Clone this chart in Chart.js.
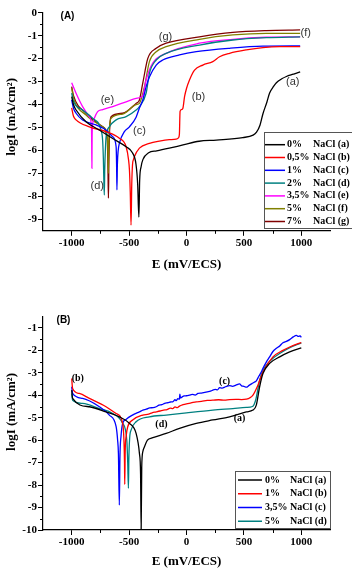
<!DOCTYPE html>
<html><head><meta charset="utf-8">
<script src="https://cdn.jsdelivr.net/npm/chart.js@4/dist/chart.umd.min.js"></script>
<style>
html,body{margin:0;padding:0;background:#fff;width:352px;height:574px;overflow:hidden}
#ca{position:absolute;left:0;top:0}
#cb{position:absolute;left:0;top:287px}
</style></head><body>
<canvas id="ca" width="352" height="280"></canvas>
<canvas id="cb" width="352" height="287"></canvas>
<script>
// ---------- Chart (A) data : E (mV/ECS) and logI (mA/cm2) ----------
const aE0 = [-1000,-985,-960,-875,-760,-646,-526,-471,-440,-425,-415,-408,-395,-380,-330,-260,-150,-30,110,260,490,580,610,640,666,700,724,760,783,830,870,930,990];
const aI0 = [-3.66,-4.0,-4.25,-4.75,-5.11,-5.47,-5.84,-6.1,-6.6,-7.5,-8.9,-7.3,-6.7,-6.4,-6.1,-6.02,-5.9,-5.76,-5.6,-5.55,-5.44,-5.33,-5.2,-4.9,-4.4,-3.9,-3.5,-3.2,-3.05,-2.88,-2.78,-2.68,-2.58];
const aE1 = [-1000,-985,-962,-846,-701,-585,-526,-505,-497,-490,-483,-477,-470,-462,-454,-410,-323,-236,-150,-90,-70,-62,-56,-45,-32,-17,0,26,70,142,229,288,375,521,666,811,990];
const aI1 = [-4.15,-4.5,-4.67,-4.97,-5.18,-5.47,-5.84,-6.4,-6.85,-7.8,-9.25,-7.5,-6.6,-6.4,-6.27,-5.9,-5.69,-5.59,-5.53,-5.51,-5.45,-5.3,-4.3,-4.22,-4.17,-3.66,-3.3,-2.93,-2.5,-2.28,-2.13,-1.92,-1.77,-1.62,-1.52,-1.48,-1.48];
const aE2 = [-1000,-985,-962,-905,-788,-701,-643,-613,-609,-606,-602,-595,-585,-541,-497,-439,-410,-381,-350,-323,-264,-207,-61,85,375,666,990];
const aI2 = [-3.8,-4.15,-4.38,-4.67,-4.89,-5.11,-5.4,-5.84,-6.6,-7.72,-6.6,-6.0,-5.69,-5.18,-4.97,-4.55,-4.15,-3.8,-3.2,-2.8,-2.28,-2.06,-1.84,-1.7,-1.55,-1.46,-1.45];
const aE3 = [-1000,-985,-905,-818,-745,-730,-724,-720,-716,-712,-706,-700,-672,-613,-526,-439,-410,-352,-323,-264,-177,113,404,695,990];
const aI3 = [-3.5,-3.85,-4.24,-4.6,-5.11,-5.6,-6.4,-7.3,-7.94,-6.8,-5.9,-5.4,-4.97,-4.67,-4.53,-4.24,-4.09,-3.51,-2.64,-2.06,-1.77,-1.41,-1.19,-1.09,-1.05];
const aE4 = [-1000,-962,-905,-846,-828,-826,-824,-822,-818,-803,-774,-730,-643,-526,-439,-381,-352,-294,-177,113,404,695,990];
const aI4 = [-3.05,-3.51,-4.09,-4.53,-4.97,-5.6,-6.78,-5.4,-4.9,-4.6,-4.31,-4.22,-4.09,-3.88,-3.73,-3.62,-2.93,-2.2,-1.77,-1.33,-1.16,-1.07,-1.05];
const aE5 = [-1000,-985,-875,-730,-690,-684,-681,-678,-672,-657,-556,-439,-410,-366,-323,-264,-177,113,404,695,990];
const aI5 = [-3.29,-3.7,-4.46,-4.97,-5.4,-6.2,-7.0,-6.0,-5.1,-4.6,-4.42,-4.0,-3.95,-3.22,-2.13,-1.7,-1.48,-1.16,-0.97,-0.9,-0.9];
const aE6 = [-1000,-985,-875,-730,-690,-684,-680,-676,-672,-666,-657,-556,-439,-410,-381,-337,-264,-177,113,404,695,990];
const aI6 = [-3.22,-3.6,-4.38,-4.97,-5.55,-6.8,-8.08,-6.5,-5.4,-4.8,-4.53,-4.38,-3.95,-3.8,-3.07,-1.99,-1.55,-1.33,-1.05,-0.86,-0.78,-0.75];
const aPct = ['0%','0,5%','1%','2%','3,5%','5%','7%'];
const aTag = ['NaCl (a)','NaCl (b)','NaCl (c)','NaCl (d)','NaCl (e)','NaCl (f)','NaCl (g)'];

// ---------- Chart (B) data ----------
const bE0 = [-1000,-992,-846,-701,-585,-497,-439,-410,-400,-395,-390,-380,-366,-340,-300,-177,-61,85,229,375,521,579,608,637,666,724,812,899,1000];
const bI0 = [-3.77,-4.14,-4.51,-4.74,-4.96,-5.25,-5.7,-6.59,-7.5,-10,-7.2,-6.5,-6.29,-6.0,-5.9,-5.7,-5.47,-5.25,-5.1,-4.96,-4.74,-4.66,-4.44,-3.62,-3.03,-2.58,-2.29,-2.07,-1.89];
const bE1 = [-1000,-992,-934,-846,-701,-613,-556,-545,-540,-538,-534,-525,-512,-469,-381,-330,-300,-264,-230,-200,-170,-140,-120,-100,-80,-61,-30,0,40,85,130,180,229,280,330,375,430,480,521,550,579,622,666,753,840,899,1000];
const bI1 = [-3.25,-3.7,-3.92,-4.14,-4.51,-4.81,-5.25,-6.0,-7.0,-7.97,-6.5,-5.8,-5.4,-5.1,-4.88,-4.84,-4.78,-4.74,-4.70,-4.66,-4.64,-4.57,-4.59,-4.52,-4.55,-4.48,-4.42,-4.38,-4.34,-4.29,-4.27,-4.23,-4.22,-4.20,-4.22,-4.19,-4.18,-4.19,-4.17,-4.12,-3.99,-3.55,-2.96,-2.29,-2.0,-1.85,-1.65];
const bE2 = [-1000,-992,-905,-759,-672,-613,-600,-593,-585,-580,-570,-556,-527,-497,-455,-410,-380,-350,-320,-290,-264,-240,-215,-190,-160,-140,-120,-100,-90,-75,-62,-58,-52,-40,-20,0,26,50,75,100,130,160,190,215,229,250,270,288,310,340,375,400,430,462,480,500,521,545,570,590,608,630,650,666,695,724,753,780,812,840,870,899,930,957,975,990,1000];
const bI2 = [-3.62,-3.92,-4.14,-4.51,-4.88,-5.4,-6.0,-6.6,-8.89,-6.8,-5.8,-5.25,-5.08,-4.96,-4.84,-4.74,-4.66,-4.62,-4.56,-4.55,-4.51,-4.44,-4.42,-4.36,-4.33,-4.30,-4.29,-4.20,-4.24,-4.15,-4.18,-3.95,-4.12,-4.08,-4.03,-4.02,-3.99,-3.96,-3.99,-3.92,-3.90,-3.87,-3.84,-3.80,-3.77,-3.74,-3.76,-3.66,-3.68,-3.62,-3.57,-3.60,-3.55,-3.49,-3.58,-3.60,-3.64,-3.56,-3.48,-3.42,-3.36,-3.15,-2.98,-2.80,-2.52,-2.29,-2.05,-1.92,-1.80,-1.66,-1.60,-1.52,-1.40,-1.33,-1.38,-1.35,-1.42];
const bE3 = [-1000,-992,-905,-759,-643,-556,-520,-512,-506,-502,-495,-483,-439,-323,-177,0,229,404,521,575,602,637,666,695,753,812,900,1000];
const bI3 = [-3.92,-4.22,-4.36,-4.59,-4.81,-5.25,-6.0,-7.0,-8.14,-6.8,-5.9,-5.55,-5.18,-4.96,-4.88,-4.78,-4.66,-4.59,-4.54,-4.5,-4.22,-3.33,-2.9,-2.66,-2.35,-2.14,-1.88,-1.67];
const bPct = ['0%','1%','3,5%','5%'];
const bTag = ['NaCl (a)','NaCl (b)','NaCl (c)','NaCl (d)'];

// ---------- tick labels ----------
const xTickLabels = [-1000,-500,0,500,1000];
const yTickLabelsA = [0,-1,-2,-3,-4,-5,-6,-7,-8,-9];
const yTickLabelsB = [-1,-2,-3,-4,-5,-6,-7,-8,-9,-10];

const colA = ['#000000','#ff0000','#0000ff','#008080','#ff00ff','#808000','#800000'];
const colB = ['#000000','#ff0000','#0000ff','#008080'];

const SERIF = '"Liberation Serif","Times New Roman",serif';
const SANS = '"Liberation Sans",Arial,sans-serif';

function pts(E, I){ return E.map((e,k)=>({x:e,y:I[k]})); }
function near(v, arr){ return arr.some(a=>Math.abs(a-v)<1e-6); }

const overlay = {
  id:'overlay',
  afterDraw(chart, args, o){
    const ctx = chart.ctx, xs = chart.scales.x, ys = chart.scales.y;
    ctx.save();
    // minor ticks
    ctx.strokeStyle = '#000'; ctx.lineWidth = 1;
    ctx.beginPath();
    xs.ticks.forEach(t=>{
      if (t.value <= xs.min+1e-6 || t.value >= xs.max-1e-6) return;
      if (!near(t.value, o.xMajor)) {
        const px = Math.round(xs.getPixelForValue(t.value))+0.5;
        ctx.moveTo(px, ys.bottom); ctx.lineTo(px, ys.bottom+3);
      }
    });
    ys.ticks.forEach(t=>{
      if (t.value <= ys.min+1e-6 || t.value >= ys.max-1e-6) return;
      if (!near(t.value, o.yMajor)) {
        const py = Math.round(ys.getPixelForValue(t.value))+0.5;
        ctx.moveTo(xs.left-3, py); ctx.lineTo(xs.left, py);
      }
    });
    ctx.stroke();
    // curve labels
    ctx.textAlign = 'center'; ctx.textBaseline = 'middle';
    ctx.font = o.labelFont; ctx.fillStyle = o.labelColor;
    o.labels.forEach(l=>{
      ctx.fillText(l.t, xs.getPixelForValue(l.e), ys.getPixelForValue(l.v));
    });
    // panel letter
    ctx.font = 'bold 10px '+SANS; ctx.fillStyle = '#000';
    ctx.fillText(o.panel.t, o.panel.x, o.panel.y);
    // legend
    const L = o.legend;
    ctx.fillStyle = '#fff';
    ctx.fillRect(L.x, L.y, L.w, L.h);
    ctx.strokeStyle = '#555'; ctx.lineWidth = 1;
    ctx.strokeRect(L.x+0.5, L.y+0.5, L.w, L.h);
    ctx.textAlign = 'left'; ctx.font = 'bold 10px '+SERIF;
    chart.data.datasets.forEach((ds,i)=>{
      const y = L.row0 + i*L.step;
      ctx.strokeStyle = ds.borderColor; ctx.lineWidth = 1.5;
      ctx.beginPath(); ctx.moveTo(L.l0, y); ctx.lineTo(L.l1, y); ctx.stroke();
      ctx.fillStyle = '#000';
      ctx.fillText(L.pct[i], L.t1, y);
      ctx.fillText(L.tag[i], L.t2, y);
    });
    ctx.restore();
  }
};

function makeChart(id, sets, cols, yMin, yMax, yLabels, padTop, xH, xTitlePadB, yTitle, ov){
  return new Chart(document.getElementById(id), {
    type:'line',
    data:{ datasets: sets.map((s,i)=>({ data: pts(s[0], s[1]), borderColor: cols[i], borderWidth:1.3, pointRadius:0, fill:false, cubicInterpolationMode:'monotone' })) },
    options:{
      responsive:false, animation:false, events:[],
      layout:{ padding:{ top:padTop, right:22, left:0, bottom:0 } },
      plugins:{ legend:{display:false}, tooltip:{enabled:false}, overlay: ov },
      scales:{
        x:{
          type:'linear', min:-1250, max:1250,
          border:{display:true, color:'#000', width:1.2},
          grid:{ drawOnChartArea:false, drawTicks:true, tickLength:5, tickWidth:1,
                 tickColor: c => (c.tick && near(c.tick.value, xTickLabels)) ? '#000' : 'rgba(0,0,0,0)' },
          ticks:{ stepSize:250, autoSkip:false, maxRotation:0, padding:1, color:'#000',
                  font:{family:SERIF, weight:'bold', size:11},
                  callback: v => near(v, xTickLabels) ? String(Math.round(v)) : '' },
          title:{ display:true, text:'E (mV/ECS)', color:'#000', font:{family:SERIF, weight:'bold', size:13}, padding:{top:2, bottom:xTitlePadB} },
          afterFit: s => { s.height = xH; }
        },
        y:{
          type:'linear', min:yMin, max:yMax,
          border:{display:true, color:'#000', width:1.2},
          grid:{ drawOnChartArea:false, drawTicks:true, tickLength:5, tickWidth:1,
                 tickColor: c => (c.tick && near(c.tick.value, yLabels)) ? '#000' : 'rgba(0,0,0,0)' },
          ticks:{ stepSize:0.5, autoSkip:false, padding:1, color:'#000',
                  font:{family:SERIF, weight:'bold', size:11},
                  callback: v => near(v, yLabels) ? String(Math.round(v)) : '' },
          title:{ display:true, text:yTitle, color:'#000', font:{family:SERIF, weight:'bold', size:13}, padding:{top:3.5, bottom:0} },
          afterFit: s => { s.width = 43; }
        }
      }
    },
    plugins:[overlay]
  });
}

makeChart('ca',
  [[aE0,aI0],[aE1,aI1],[aE2,aI2],[aE3,aI3],[aE4,aI4],[aE5,aI5],[aE6,aI6]],
  colA, -9.5, 0, yTickLabelsA, 12.7, 49.2, 7.2, '\u00a0\u00a0\u00a0logI (mA/cm²)',
  { xMajor:xTickLabels, yMajor:yTickLabelsA,
    labelFont:'11px '+SANS, labelColor:'#333',
    labels:[{t:'(g)',e:-183,v:-1.06},{t:'(f)',e:1038,v:-0.88},{t:'(a)',e:925,v:-3.02},{t:'(b)',e:105,v:-3.67},{t:'(e)',e:-689,v:-3.8},{t:'(c)',e:-410,v:-5.15},{t:'(d)',e:-777,v:-7.55}],
    panel:{t:'(A)', x:67.5, y:16},
    legend:{x:264, y:132, w:100, h:96, row0:144.7, step:12.8, l0:265, l1:285, t1:287, t2:313, pct:aPct, tag:aTag}
  });

makeChart('cb',
  [[bE0,bI0],[bE1,bI1],[bE2,bI2],[bE3,bI3]],
  colB, -10, -0.5, yTickLabelsB, 29.7, 44, 4.2, '\u00a0\u00a0\u00a0\u00a0\u00a0\u00a0\u00a0logI (mA/cm²)',
  { xMajor:xTickLabels, yMajor:yTickLabelsB,
    labelFont:'bold 10px '+SERIF, labelColor:'#000',
    labels:[{t:'(b)',e:-947,v:-3.24},{t:'(c)',e:332,v:-3.37},{t:'(a)',e:462,v:-5.02},{t:'(d)',e:-218,v:-5.28}],
    panel:{t:'(B)', x:63.5, y:33.5},
    legend:{x:235, y:184, w:95, h:57, row0:193, step:13.75, l0:238, l1:262, t1:265, t2:290, pct:bPct, tag:bTag}
  });
</script>
</body></html>
